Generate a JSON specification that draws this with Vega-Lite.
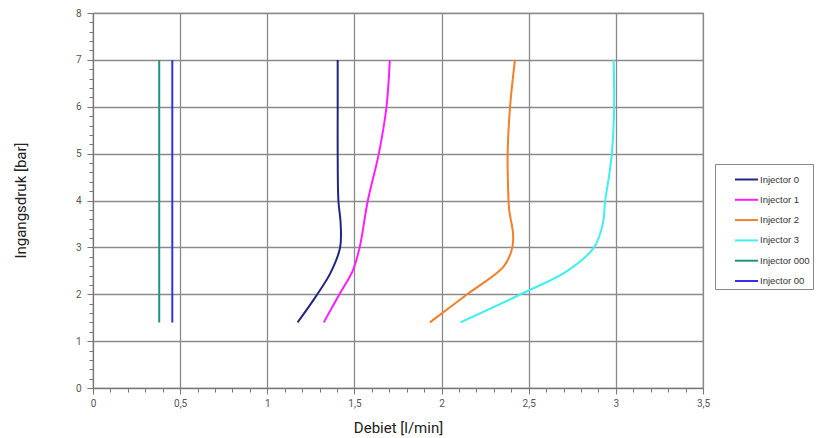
{
  "$schema": "https://vega.github.io/schema/vega-lite/v6.json",
  "width": 610,
  "height": 375,
  "autosize": {"type": "none"},
  "padding": {"left": 93, "top": 13, "right": 119, "bottom": 50},
  "background": "white",
  "data": {
    "values": [
      {"s": "Injector 000", "x": 0.38, "y": 1.4},
      {"s": "Injector 000", "x": 0.38, "y": 7},
      {"s": "Injector 00", "x": 0.455, "y": 1.4},
      {"s": "Injector 00", "x": 0.455, "y": 7},
      {"s": "Injector 0", "x": 1.174, "y": 1.4},
      {"s": "Injector 0", "x": 1.28, "y": 1.96},
      {"s": "Injector 0", "x": 1.362, "y": 2.45},
      {"s": "Injector 0", "x": 1.418, "y": 3.0},
      {"s": "Injector 0", "x": 1.421, "y": 3.5},
      {"s": "Injector 0", "x": 1.408, "y": 4.0},
      {"s": "Injector 0", "x": 1.404, "y": 5.0},
      {"s": "Injector 0", "x": 1.404, "y": 6.0},
      {"s": "Injector 0", "x": 1.404, "y": 7.0},
      {"s": "Injector 1", "x": 1.324, "y": 1.4},
      {"s": "Injector 1", "x": 1.414, "y": 2.0},
      {"s": "Injector 1", "x": 1.49, "y": 2.5},
      {"s": "Injector 1", "x": 1.53, "y": 3.0},
      {"s": "Injector 1", "x": 1.577, "y": 4.0},
      {"s": "Injector 1", "x": 1.64, "y": 5.0},
      {"s": "Injector 1", "x": 1.684, "y": 6.0},
      {"s": "Injector 1", "x": 1.703, "y": 7.0},
      {"s": "Injector 2", "x": 1.933, "y": 1.4},
      {"s": "Injector 2", "x": 2.147, "y": 2.0},
      {"s": "Injector 2", "x": 2.358, "y": 2.6},
      {"s": "Injector 2", "x": 2.406, "y": 3.0},
      {"s": "Injector 2", "x": 2.41, "y": 3.3},
      {"s": "Injector 2", "x": 2.388, "y": 3.8},
      {"s": "Injector 2", "x": 2.38, "y": 4.5},
      {"s": "Injector 2", "x": 2.379, "y": 5.0},
      {"s": "Injector 2", "x": 2.393, "y": 6.0},
      {"s": "Injector 2", "x": 2.421, "y": 7.0},
      {"s": "Injector 3", "x": 2.109, "y": 1.4},
      {"s": "Injector 3", "x": 2.454, "y": 2.0},
      {"s": "Injector 3", "x": 2.722, "y": 2.5},
      {"s": "Injector 3", "x": 2.875, "y": 3.0},
      {"s": "Injector 3", "x": 2.925, "y": 3.5},
      {"s": "Injector 3", "x": 2.939, "y": 4.0},
      {"s": "Injector 3", "x": 2.96, "y": 4.5},
      {"s": "Injector 3", "x": 2.977, "y": 5.0},
      {"s": "Injector 3", "x": 2.99, "y": 6.0},
      {"s": "Injector 3", "x": 2.987, "y": 7.0}
    ]
  },
  "mark": {"type": "line", "interpolate": "catmull-rom", "strokeWidth": 2},
  "encoding": {
    "x": {
      "field": "x", "type": "quantitative",
      "scale": {"domain": [0, 3.5], "nice": false, "zero": false},
      "axis": {
        "title": "Debiet [l/min]",
        "values": [0,0.1,0.2,0.3,0.4,0.5,0.6,0.7,0.8,0.9,1,1.1,1.2,1.3,1.4,1.5,1.6,1.7,1.8,1.9,2,2.1,2.2,2.3,2.4,2.5,2.6,2.7,2.8,2.9,3,3.1,3.2,3.3,3.4,3.5],
        "labelExpr": "abs(datum.value*2-round(datum.value*2))<0.001 ? replace(format(datum.value,''),'.',',') : ''",
        "labelOverlap": false,
        "labelFlush": false,
        "grid": true,
        "gridOpacity": {"condition": {"test": "abs(datum.value*2-round(datum.value*2))<0.001", "value": 1}, "value": 0},
        "tickSize": {"condition": {"test": "abs(datum.value*2-round(datum.value*2))<0.001", "value": 6}, "value": 4}
      }
    },
    "y": {
      "field": "y", "type": "quantitative",
      "scale": {"domain": [0, 8], "nice": false},
      "axis": {
        "title": "Ingangsdruk [bar]",
        "values": [0,0.2,0.4,0.6,0.8,1,1.2,1.4,1.6,1.8,2,2.2,2.4,2.6,2.8,3,3.2,3.4,3.6,3.8,4,4.2,4.4,4.6,4.8,5,5.2,5.4,5.6,5.8,6,6.2,6.4,6.6,6.8,7,7.2,7.4,7.6,7.8,8],
        "labelExpr": "abs(datum.value-round(datum.value))<0.001 ? format(datum.value,'d') : ''",
        "labelOverlap": false,
        "labelFlush": false,
        "grid": true,
        "gridOpacity": {"condition": {"test": "abs(datum.value-round(datum.value))<0.001", "value": 1}, "value": 0},
        "tickSize": {"condition": {"test": "abs(datum.value-round(datum.value))<0.001", "value": 6}, "value": 4},
        "titleX": -73,
        "titleY": 187,
        "titleAngle": -90,
        "titleAlign": "center",
        "titleBaseline": "middle"
      }
    },
    "color": {
      "field": "s", "type": "nominal",
      "scale": {
        "domain": ["Injector 0", "Injector 1", "Injector 2", "Injector 3", "Injector 000", "Injector 00"],
        "range": ["#23257f", "#ff1eff", "#f47e2a", "#3ef0ee", "#24927e", "#3232ee"]
      },
      "legend": {
        "title": null,
        "orient": "none",
        "legendX": 622,
        "legendY": 151,
        "strokeColor": "#888888",
        "padding": 3,
        "symbolType": "stroke",
        "symbolSize": 529,
        "symbolStrokeWidth": 2,
        "symbolOffset": 16,
        "labelFontSize": 9.5,
        "labelColor": "#333333",
        "labelFont": "Liberation Sans",
        "rowPadding": 3.3,
        "labelOffset": 1
      }
    },
    "order": {"field": "y", "type": "quantitative"}
  },
  "config": {
    "view": {"stroke": "#888888", "strokeWidth": 1.2},
    "axis": {
      "domainColor": "#777777",
      "tickColor": "#777777",
      "gridColor": "#8a8a8a",
      "gridWidth": 1.3,
      "labelColor": "#555555",
      "labelFont": "Roboto",
      "labelFontSize": 10,
      "titleFont": "Roboto",
      "titleFontWeight": "normal",
      "titleFontSize": 15,
      "titleColor": "#222222",
      "labelPadding": 4
    },
    "axisX": {"titlePadding": 12},
    "axisY": {"labelPadding": 6}
  }
}
